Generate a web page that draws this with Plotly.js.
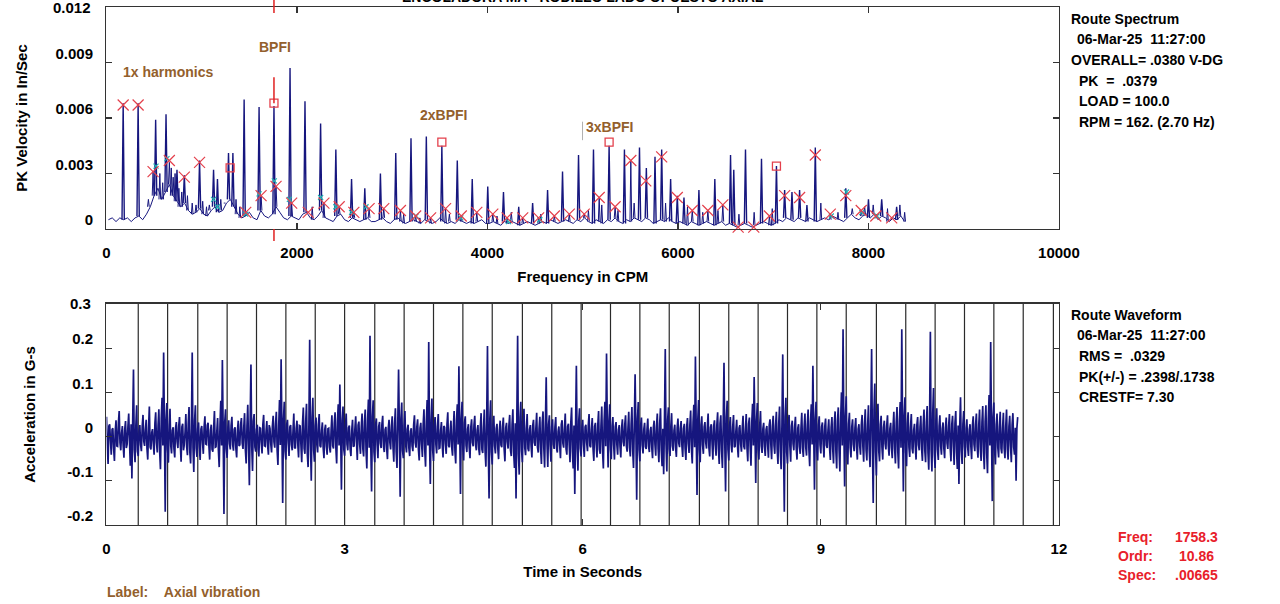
<!DOCTYPE html>
<html><head><meta charset="utf-8">
<script src="https://cdn.plot.ly/plotly-3.0.1.min.js"></script>
<style>html,body{margin:0;padding:0;background:#fff}#chart{width:1280px;height:604px}</style>
</head><body><div id="chart"></div>
<script>
// ---------------- DATA ----------------
// Spectrum: main peaks (CPM, PK velocity in/sec)
const majorCPM = [175,332,516,625,740,817,977,1124,1165,1281,1327,1445,1602,1758.3,1927,2084,2248,2408,2573,2712,2876,3037,3197,3358,3521,3683,3840,4003,4168,4328,4474,4631,4788,4956,5113,5277,5438,5596,5668,5759,5829,5923,5993,6063,6220,6387,6552,6586,6709,6877,7034,7120,7197,7277,7354,7442,7762,8000,8139,8296];
const majorAmp = [.0068,.0068,.0059,.0062,.0032,.0029,.0037,.0032,.0027,.0041,.0041,.0070,.0066,.00665,.0087,.0069,.0057,.0043,.0027,.0022,.0030,.0041,.0049,.0050,.0045,.0037,.0027,.0023,.0020,.0012,.0014,.0021,.0031,.0040,.0043,.0045,.0043,.0044,.0033,.0039,.0043,.0027,.0018,.0017,.0021,.0027,.0040,.0032,.0043,.0038,.0034,.0021,.0020,.0021,.0013,.0044,.0022,.0016,.0016,.0012];
// Spectrum: small peaks
const minorCPM = [440,489,560,590,660,680,700,720,760,790,850,900,940,1010,1050,1080,1200,1240,1360,1400,1462,1623,1780,1944,2118,2160,2283,2443,2597,2757,2911,3086,3120,3246,3290,3403,3560,3600,3725,3888,4056,4100,4206,4250,4370,4537,4560,4702,4859,5016,5060,5173,5200,5340,5370,5505,5540,5870,6100,6150,6260,6314,6420,6471,6640,6800,6960,6990,7500,7599,7680,7830,7924,7960,8050,8077,8200,8244,8330,8380];
const minorAmp = [.0016,.0031,.0030,.0025,.0036,.0033,.0028,.0030,.0022,.0020,.0018,.0014,.0013,.0015,.0012,.0013,.0016,.0014,.0016,.0012,.0009,.0018,.0023,.0014,.0009,.0012,.0014,.0012,.0009,.0011,.0011,.0010,.0008,.0007,.0006,.0006,.0011,.0008,.0007,.0009,.0008,.0007,.0006,.0009,.0006,.0006,.0008,.0007,.0008,.0008,.0010,.0017,.0013,.0012,.0010,.0037,.0014,.0014,.0012,.0010,.0009,.0010,.0010,.0013,.0008,.0009,.0007,.0011,.0014,.0008,.0009,.0011,.0010,.0012,.0013,.0007,.0011,.0006,.0013,.0009];
// Spectrum noise floor, sampled every 40 CPM from 20 CPM
const floorStart = 20, floorStep = 40;
const floorAmp = [
.0005,.0006,.0004,.0006,.0005,.0006,.0004,.0006,.0007,.0005,
.0008,.0012,.0018,.0022,.0016,.0020,.0024,.0018,.0015,.0012,
.0014,.0010,.0008,.0009,.0011,.0008,.0007,.0010,.0012,.0009,
.0010,.0014,.0016,.0012,.0008,.0006,.0007,.0009,.0006,.0005,
.0010,.0007,.0006,.0008,.0012,.0009,.0006,.0005,.0007,.0006,
.0005,.0008,.0009,.0006,.0005,.0007,.0010,.0006,.0005,.0004,
.0007,.0008,.0005,.0004,.0006,.0005,.0004,.0005,.0006,.0004,
.0004,.0005,.0006,.0004,.0003,.0005,.0006,.0004,.0003,.0004,
.0005,.0004,.0003,.0005,.0004,.0003,.0004,.0006,.0004,.0003,
.0004,.0003,.0005,.0004,.0003,.0004,.0003,.0004,.0005,.0003,
.0003,.0004,.0003,.0002,.0004,.0003,.0004,.0003,.0002,.0003,
.0004,.0003,.0002,.0003,.0004,.0003,.0005,.0004,.0003,.0004,
.0005,.0004,.0003,.0005,.0004,.0006,.0004,.0003,.0005,.0004,
.0003,.0005,.0004,.0006,.0004,.0003,.0005,.0004,.0006,.0005,
.0004,.0006,.0005,.0003,.0004,.0005,.0004,.0006,.0004,.0003,
.0004,.0003,.0002,.0004,.0003,.0002,.0003,.0004,.0003,.0002,
.0003,.0004,.0002,.0003,.0002,.0001,.0002,.0003,.0002,.0001,
.0002,.0003,.0004,.0003,.0002,.0003,.0005,.0004,.0006,.0005,
.0004,.0006,.0005,.0004,.0006,.0005,.0004,.0005,.0006,.0005,
.0007,.0006,.0005,.0004,.0006,.0008,.0006,.0005,.0007,.0008,
.0006,.0008,.0005,.0007,.0006,.0004,.0006,.0005,.0007,.0004];
// Markers on spectrum
const xMarkCPM = [175,332,489,660,817,977,1462,1623,1780,1944,2118,2283,2443,2597,2757,2911,3086,3246,3403,3560,3725,3888,4056,4206,4370,4537,4702,4859,5016,5173,5340,5505,5662,5829,5993,6150,6314,6471,6632,6796,6960,7120,7277,7442,7599,7762,7924,8077,8244];
const xMarkAmp = [.0067,.0067,.0031,.0037,.0028,.0036,.0009,.0018,.0023,.0014,.0009,.0014,.0012,.0009,.0011,.0011,.0010,.0007,.0006,.0011,.0007,.0009,.0008,.0006,.0006,.0006,.0007,.0008,.0008,.0017,.0012,.0037,.0026,.0039,.0017,.0010,.0010,.0013,.0001,.0001,.0007,.0018,.0017,.0040,.0008,.0018,.0010,.0007,.0006];
const sqMarkCPM = [1298,1758.3,3521,5277,7034];
const sqMarkAmp = [.0033,.0068,.0047,.0047,.0034];
const cyMarkCPM = [520,635,1124,1165,1462,1602,1762,1920,2248,2408,2573,2725,3250,3720,4220,4550,7610,7770,7930,8090];
const cyMarkAmp = [.0034,.0038,.0016,.0012,.0008,.0019,.0026,.0016,.0017,.0012,.0009,.0012,.0007,.0006,.0004,.0005,.0007,.0020,.0009,.0007];
const cursorFreq = 1758.3;
const spectrumTicks = [0,2000,4000,6000,8000,10000];
const velTicks = [0,0.003,0.006,0.009,0.012];
const velTickText = ['0','0.003','0.006','0.009',''];
const peakLabels = ['1x harmonics','BPFI','2xBPFI','3xBPFI'];
const peakLabelCPM = [650,1770,3539,5277];
const peakLabelAmp = [.0085,.00984,.00616,.00551];

// Waveform: acceleration in G-s, sampled every 0.01 s from t = 0 (one row = 0.4 s)
const waveStart = 0, waveStep = 0.01;
const waveG = [
.045,-.018,-.062,.024,.028,-.009,-.041,.016,.019,-.027,-.055,.012,.037,-.021,-.022,.031,.058,-.014,-.031,.008,.024,-.02,-.048,.017,.035,-.026,-.017,.022,.052,-.011,-.066,.028,-.095,.034,.152,-.03,-.058,.025,.071,-.033,
-.044,.012,.026,-.019,-.033,.023,.049,-.011,-.021,.015,.038,-.027,-.052,.02,.068,-.024,-.029,.009,.017,-.016,-.041,.03,.055,-.013,-.036,.025,.062,-.034,-.074,.041,.088,-.02,.19,.015,-.17,.038,.076,-.029,-.059,.026,
.063,-.021,-.038,.014,.021,-.028,-.047,.019,.033,-.012,-.026,.024,.044,-.016,-.057,.022,.029,-.031,-.018,.011,.051,-.023,-.042,.029,.067,-.035,-.061,.018,.19,-.025,-.08,.036,.071,-.027,-.046,.019,.032,-.024,-.053,.017,
.024,-.013,-.039,.022,.046,-.017,-.018,.026,.031,-.02,-.052,.014,.027,-.029,-.034,.018,.058,-.024,-.023,.012,.042,-.031,-.069,.027,.081,-.02,.173,.012,-.175,.033,.062,-.028,-.048,.021,.037,-.016,-.029,.025,.045,-.019,
-.032,.017,.021,-.026,-.047,.013,.036,-.021,-.019,.028,.042,-.015,-.028,.022,.053,-.03,-.061,.025,.072,-.018,-.11,.03,.163,-.022,-.078,.035,.051,-.024,-.034,.016,.027,-.029,-.045,.02,.019,-.014,-.038,.027,.049,-.021,
-.022,.011,.035,-.02,-.041,.026,.018,-.017,-.036,.023,.047,-.012,-.025,.029,.056,-.031,-.064,.024,.083,-.019,.175,.02,-.15,.04,.079,-.033,-.052,.027,.038,-.015,-.044,.022,.026,-.018,-.031,.013,.052,-.025,-.027,.019,
.036,-.016,-.047,.025,.024,-.02,-.058,.031,.066,-.027,-.039,.034,.074,-.038,-.069,.026,.219,-.015,-.10,.042,.088,-.03,-.057,.024,.043,-.018,-.036,.027,.051,-.021,-.024,.013,.032,-.025,-.049,.016,.027,-.022,-.041,.018,
.019,-.024,-.036,.015,.048,-.021,-.027,.03,.055,-.026,-.061,.035,.073,-.02,.118,.01,-.12,.036,.068,-.029,-.043,.022,.052,-.017,-.031,.02,.025,-.028,-.044,.014,.038,-.023,-.021,.019,.046,-.012,-.053,.026,.034,-.018,
-.039,.021,.052,-.028,-.045,.033,.061,-.03,-.072,.037,.084,-.025,.228,-.02,-.124,.045,.082,-.034,-.058,.027,.041,-.019,-.049,.023,.033,-.015,-.026,.028,.047,-.022,-.035,.016,.022,-.027,-.051,.018,.038,-.013,-.029,.024,
.046,-.023,-.057,.03,.064,-.035,-.071,.028,.152,.018,-.136,.041,.077,-.032,-.049,.025,.058,-.02,-.036,.017,.027,-.026,-.044,.012,.019,-.021,-.033,.026,.048,-.014,-.025,.022,.039,-.029,-.054,.019,.031,-.017,-.046,.027,
.062,-.03,-.068,.034,.083,-.02,.214,-.012,-.107,.038,.086,-.031,-.055,.026,.044,-.018,-.038,.023,.051,-.027,-.026,.014,.033,-.019,-.047,.024,.021,-.016,-.039,.028,.055,-.021,-.024,.012,.036,-.025,-.043,.02,.058,-.032,
-.061,.036,.073,-.018,.159,.022,-.13,.04,.079,-.028,-.054,.031,.046,-.02,-.035,.017,.028,-.024,-.049,.021,.039,-.013,-.022,.026,.047,-.019,-.031,.015,.026,-.027,-.042,.022,.053,-.029,-.037,.018,.061,-.033,-.068,.035,
.205,-.02,-.14,.041,.082,-.035,-.063,.027,.047,-.021,-.038,.018,.029,-.026,-.051,.014,.036,-.019,-.024,.023,.043,-.028,-.056,.02,.031,-.012,-.027,.025,.049,-.031,-.044,.026,.062,-.036,-.071,.03,-.14,.045,.228,-.04,
-.086,.043,.079,-.032,-.058,.028,.063,-.025,-.042,.019,.051,-.027,-.033,.016,.026,-.022,-.047,.025,.038,-.013,-.021,.02,.054,-.024,-.036,.018,.045,-.029,-.062,.031,.057,-.026,-.07,.03,.134,-.015,-.069,.027,.048,-.022,
-.057,.024,.039,-.017,-.028,.021,.044,-.026,-.036,.012,.023,-.02,-.049,.027,.037,-.015,-.025,.018,.052,-.028,-.041,.023,.029,-.019,-.058,.031,.066,-.034,-.072,.025,-.13,.02,.16,-.025,-.077,.036,.064,-.027,-.045,.021,
.038,-.019,-.046,.022,.027,-.014,-.033,.025,.051,-.021,-.024,.016,.042,-.027,-.055,.023,.031,-.018,-.047,.026,.058,-.029,-.039,.024,.068,-.033,-.072,.035,.079,-.022,.188,.02,-.07,.034,.073,-.03,-.051,.024,.044,-.019,
-.052,.022,.033,-.018,-.041,.015,.026,-.023,-.047,.02,.039,-.012,-.022,.027,.048,-.021,-.034,.019,.056,-.025,-.045,.028,.067,-.032,-.071,.024,.141,.012,-.143,.04,.078,-.031,-.056,.025,.043,-.02,-.038,.017,.031,-.023,
-.028,.016,.041,-.022,-.035,.013,.022,-.025,-.049,.02,.036,-.017,-.043,.024,.052,-.027,-.058,.029,.064,-.031,-.067,.018,-.085,.035,.198,-.018,-.079,.037,.066,-.028,-.044,.022,.053,-.021,-.032,.014,.027,-.024,-.046,.02,
.041,-.015,-.024,.019,.035,-.022,-.046,.018,.029,-.027,-.053,.023,.042,-.016,-.037,.026,.059,-.028,-.061,.032,.072,-.024,.181,.016,-.132,.038,.083,-.03,-.058,.026,.046,-.019,-.039,.022,.033,-.014,-.027,.021,.052,-.025,
-.045,.021,.028,-.016,-.052,.024,.037,-.019,-.043,.026,.055,-.028,-.062,.03,.048,-.033,-.071,.028,.167,-.015,-.124,.042,.081,-.029,-.054,.025,.044,-.018,-.036,.022,.049,-.024,-.022,.013,.038,-.021,-.047,.019,.026,-.017,
-.034,.018,.047,-.022,-.029,.015,.051,-.026,-.056,.029,.043,-.024,-.066,.031,.074,-.02,.135,.014,-.105,.037,.076,-.029,-.052,.025,.058,-.021,-.037,.018,.031,-.023,-.044,.016,.024,-.02,-.048,.026,.039,-.017,-.051,.024,
.047,-.02,-.039,.025,.056,-.028,-.062,.03,.068,-.034,-.074,.027,.186,-.02,-.17,.045,.088,-.035,-.061,.027,.049,-.022,-.057,.024,.036,-.016,-.031,.021,.045,-.025,-.052,.019,.028,-.023,-.039,.018,.054,-.026,-.046,.022,
.052,-.024,-.043,.027,.061,-.03,-.067,.033,.073,-.018,.16,.015,-.12,.039,.079,-.031,-.054,.026,.046,-.019,-.038,.022,.032,-.017,-.047,.023,.041,-.02,-.026,.014,.039,-.025,-.053,.021,.044,-.028,-.061,.03,.057,-.034,
-.072,.035,.066,-.031,-.079,.04,.1,-.02,.243,.02,-.113,.046,.091,-.036,-.063,.029,.054,-.025,-.047,.022,.039,-.018,-.033,.02,.042,-.024,-.052,.017,.028,-.021,-.041,.026,.049,-.023,-.057,.028,.062,-.03,-.054,.025,
.071,-.03,-.069,.05,.198,-.02,-.15,.06,.12,-.035,-.088,.042,.074,-.033,-.056,.027,.047,-.024,-.052,.021,.036,-.016,-.029,.024,.048,-.02,-.043,.018,.031,-.025,-.049,.022,.056,-.027,-.061,.031,.067,-.034,-.072,.036,
.078,-.025,.243,.02,-.124,.047,.089,-.036,-.067,.03,.055,-.024,-.046,.021,.051,-.027,-.038,.015,.029,-.022,-.052,.026,.044,-.019,-.031,.023,.047,-.028,-.055,.027,.061,-.031,-.058,.033,.069,-.036,-.075,.03,.237,-.03,
-.079,.052,.11,-.04,-.071,.035,.064,-.029,-.053,.024,.048,-.022,-.041,.018,.032,-.026,-.049,.02,.043,-.015,-.028,.023,.051,-.025,-.056,.028,.047,-.021,-.064,.03,.058,-.033,-.073,.025,-.107,.022,.089,-.03,-.062,.028,
.058,-.022,-.047,.019,.039,-.024,-.044,.016,.028,-.021,-.051,.025,.046,-.018,-.033,.027,.052,-.023,-.048,.026,.061,-.029,-.055,.032,.069,-.035,-.074,.033,.071,-.038,-.083,.04,.094,-.02,.214,.018,-.146,.044,.077,-.032,
-.063,.028,.052,-.025,-.047,.022,.056,-.027,-.038,.018,.054,-.026,-.049,.024,.061,-.029,-.052,.023,.047,-.021,-.058,.027,.053,-.024,-.041,.02,-.10,.018,.044];
// Revolution marker times (s)
const revTimes = [0.40,0.77,1.15,1.52,1.89,2.26,2.63,3.00,3.38,3.75,4.12,4.49,4.86,5.24,5.61,5.98,6.35,6.72,7.09,7.47,7.84,8.21,8.58,8.95,9.32,9.70,10.07,10.44,10.81,11.18,11.55,11.93];
const timeTicks = [0,3,6,9,12];
const accTicks = [-0.2,-0.1,0,0.1,0.2,0.3];
const accTickText = ['-0.2','-0.1','0','0.1','0.2',''];

// ---------------- BUILD ----------------
const FONT = '"Liberation Sans", Arial, sans-serif';
const NAVY = '#16167e';
const MARKRED = '#e4404c';
const BROWN = '#93602c';

function floorAt(f){
  const i = Math.min(floorAmp.length-1, Math.max(0, Math.round((f-floorStart)/floorStep)));
  return floorAmp[i];
}
function spikes(cpm, amp, half){
  const x=[], y=[];
  cpm.forEach((f,i)=>{ const b=floorAt(f); x.push(f-half,f,f+half,null); y.push(b,amp[i],b,null); });
  return {x,y};
}
const majSp = spikes(majorCPM, majorAmp, 12);
const minSp = spikes(minorCPM, minorAmp, 9);
const revX=[], revY=[];
revTimes.forEach(t=>{ revX.push(t,t,null); revY.push(accTicks[0], accTicks[accTicks.length-1], null); });

const traces = [
  {type:'scatter', mode:'lines', x0:floorStart, dx:floorStep, y:floorAmp, xaxis:'x', yaxis:'y', line:{color:NAVY, width:1, simplify:false}, hoverinfo:'skip'},
  {type:'scatter', mode:'lines', x:minSp.x, y:minSp.y, xaxis:'x', yaxis:'y', line:{color:NAVY, width:1, simplify:false}, connectgaps:false},
  {type:'scatter', mode:'lines', x:majSp.x, y:majSp.y, xaxis:'x', yaxis:'y', line:{color:NAVY, width:1.4, simplify:false}, connectgaps:false},
  {type:'scatter', mode:'markers', x:cyMarkCPM, y:cyMarkAmp, xaxis:'x', yaxis:'y', marker:{symbol:'x-thin', size:5, line:{color:'#1fb0b0', width:1.2}}},
  {type:'scatter', mode:'markers', x:xMarkCPM, y:xMarkAmp, xaxis:'x', yaxis:'y', cliponaxis:false, marker:{symbol:'x-thin', size:11, line:{color:MARKRED, width:1.2}}},
  {type:'scatter', mode:'markers', x:sqMarkCPM, y:sqMarkAmp, xaxis:'x', yaxis:'y', marker:{symbol:'square-open', size:8, color:MARKRED, line:{color:MARKRED, width:1.3}}},
  {type:'scatter', mode:'lines', x:revX, y:revY, xaxis:'x2', yaxis:'y2', line:{color:'#2a2a2a', width:1.2}, connectgaps:false},
  {type:'scatter', mode:'lines', x0:waveStart, dx:waveStep, y:waveG, xaxis:'x2', yaxis:'y2', line:{color:NAVY, width:1.7, simplify:false}}
];

const axisBase = {
  showline:true, linecolor:'#333', linewidth:1.5, mirror:'ticks', ticks:'inside', ticklen:6, tickwidth:1.2, tickcolor:'#333',
  showgrid:false, zeroline:false, fixedrange:true,
  tickfont:{family:FONT, size:15, color:'#000', weight:'bold'}
};
const titleFont = {family:FONT, size:15, color:'#000', weight:'bold'};
const XD = [0.0832, 0.8273];

const layout = {
  width:1280, height:604, margin:{l:0,r:0,t:0,b:0}, paper_bgcolor:'#fff', plot_bgcolor:'#fff', showlegend:false,
  font:{family:FONT},
  xaxis: Object.assign({}, axisBase, {domain:XD, anchor:'y', range:[0,10000], tickmode:'array', tickvals:spectrumTicks, ticktext:spectrumTicks.map(String), ticklabelstandoff:10, title:{text:'Frequency in CPM', font:titleFont, standoff:11}}),
  yaxis: Object.assign({}, axisBase, {domain:[0.6209,0.9884], anchor:'x', range:[0,0.012], tickmode:'array', tickvals:velTicks, ticktext:velTickText, ticklabelshift:-9, ticklabelstandoff:9, title:{text:'PK Velocity in In/Sec', font:titleFont, standoff:24}}),
  xaxis2: Object.assign({}, axisBase, {domain:XD, anchor:'y2', range:[0,12], tickmode:'array', tickvals:timeTicks, ticktext:timeTicks.map(String), ticklabelstandoff:10, title:{text:'Time in Seconds', font:titleFont, standoff:10}}),
  yaxis2: Object.assign({}, axisBase, {domain:[0.1308,0.4967], anchor:'x2', range:[-0.2,0.3], tickmode:'array', tickvals:accTicks, ticktext:accTickText, ticklabelshift:-9, ticklabelstandoff:9, title:{text:'Acceleration in G-s', font:titleFont, standoff:28}}),
  shapes:[
    {type:'line', xref:'x', yref:'paper', x0:cursorFreq, x1:cursorFreq, y0:1, y1:0.9785, line:{color:'#e02020', width:1.5}},
    {type:'line', xref:'x', yref:'y', x0:cursorFreq, x1:cursorFreq, y0:0.0068, y1:0.0082, line:{color:'#e02020', width:1.5}},
    {type:'line', xref:'x', yref:'paper', x0:cursorFreq, x1:cursorFreq, y0:0.6209, y1:0.6010, line:{color:'#e02020', width:1.5}},
    {type:'line', xref:'x', yref:'y', x0:4998, x1:4998, y0:0.0048, y1:0.0058, line:{color:'#b0b0b0', width:1}}
  ],
  annotations:[]
};
const A = layout.annotations;
function txt(text, x, y, opts){ A.push(Object.assign({text, x, y, xref:'paper', yref:'paper', xanchor:'left', yanchor:'middle', showarrow:false, font:{family:FONT, size:14, color:'#000', weight:'bold'}}, opts||{})); }
const S = '\u00a0';
// cut-off title
txt('ENCOLADORA MA - RODILLO LADO OPUESTO AXIAL', 0.4555, 1, {xanchor:'center', yshift:3});
// top tick labels
txt('0.012', 93/1280, 0.012, {xanchor:'right', yref:'y', font:{family:FONT,size:15,color:'#000',weight:'bold'}});
txt('0.3', 93/1280, 0.3, {xanchor:'right', yref:'y2', font:{family:FONT,size:15,color:'#000',weight:'bold'}});
// peak labels
peakLabels.forEach((t,i)=>txt(t, peakLabelCPM[i], peakLabelAmp[i], {xref:'x', yref:'y', xanchor:'center', font:{family:FONT,size:14,color:BROWN,weight:'bold'}}));
// info panels
txt('Route Spectrum', 0.8352, 0.9685);
txt('06-Mar-25'+S+S+'11:27:00', 0.8398, 0.9354);
txt('OVERALL='+S+'.0380 V-DG', 0.8352, 0.9007);
txt('PK'+S+S+'='+S+S+'.0379', 0.8414, 0.8659);
txt('LOAD = 100.0', 0.8414, 0.8328);
txt('RPM = 162. (2.70 Hz)', 0.8414, 0.7980);
txt('Route Waveform', 0.8352, 0.4785);
txt('06-Mar-25'+S+S+'11:27:00', 0.8398, 0.4454);
txt('RMS ='+S+S+'.0329', 0.8414, 0.4106);
txt('PK(+/-) = .2398/.1738', 0.8414, 0.3758);
txt('CRESTF= 7.30', 0.8414, 0.3427);
const RED = {family:FONT, size:14, color:'#e8202a', weight:'bold'};
txt('Freq:', 0.8719, 0.1109, {font:RED});
txt('1758.3', 0.9531, 0.1109, {font:RED, xanchor:'right'});
txt('Ordr:', 0.8719, 0.0795, {font:RED});
txt('10.86', 0.9500, 0.0795, {font:RED, xanchor:'right'});
txt('Spec:', 0.8719, 0.0480, {font:RED});
txt('.00665', 0.9531, 0.0480, {font:RED, xanchor:'right'});
txt('Label:'+S+S+S+S+'Axial vibration', 0.0820, 0.0199, {font:{family:FONT,size:14,color:BROWN,weight:'bold'}});

Plotly.newPlot('chart', traces, layout, {staticPlot:true, displayModeBar:false});
</script></body></html>
